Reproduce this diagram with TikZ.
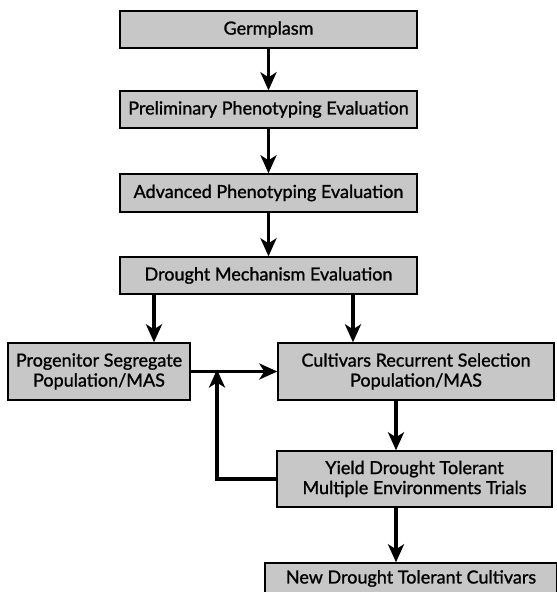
\documentclass[tikz,border=0pt]{standalone}
\usepackage{fontspec}
\setmainfont{Lato}[BoldFont={Lato},BoldFeatures={FakeBold=1.2}]
\usetikzlibrary{arrows.meta}
\begin{document}
\begin{tikzpicture}[x=1pt,y=-1pt,
  box/.style={draw=black,line width=1.4pt,fill=black!22,inner sep=0pt,align=center,font=\fontsize{18}{20}\selectfont\bfseries},
  flow/.style={line width=3.8pt,-{Stealth[length=18pt,width=16pt,inset=5pt]}}]
\useasboundingbox (0,0) rectangle (557,592);
\node[box,minimum width=297pt,minimum height=37pt] (germ) at (268.5,29.5) {Germplasm};
\node[box,minimum width=297pt,minimum height=37pt] (prel) at (268.5,109.5) {Preliminary Phenotyping Evaluation};
\node[box,minimum width=297pt,minimum height=38pt] (adv) at (268.5,193) {Advanced Phenotyping Evaluation};
\node[box,minimum width=297pt,minimum height=37pt] (mech) at (268.5,275.5) {Drought Mechanism Evaluation};
\node[box,minimum width=182pt,minimum height=57pt] (prog) at (99,371.5) {Progenitor Segregate\\Population/MAS};
\node[box,minimum width=276pt,minimum height=57pt] (cult) at (416,371.5) {Cultivars Recurrent Selection\\Population/MAS};
\node[box,minimum width=275pt,minimum height=56pt] (yield) at (414.5,479) {Yield Drought Tolerant\\Multiple Environments Trials};
\node[box,minimum width=292pt,minimum height=31pt] (new) at (411,578.5) {New Drought Tolerant Cultivars};
\coordinate (join) at (217,371.5);
\draw[flow] (germ) -- (prel);
\draw[flow] (prel) -- (adv);
\draw[flow] (adv) -- (mech);
\draw[flow] (mech.south -| 154,0) -- (prog.north -| 154,0);
\draw[flow] (mech.south -| 353,0) -- (cult.north -| 353,0);
\draw[flow] (prog) -- (cult);
\draw[flow] (cult.south -| 396,0) -- (yield.north -| 396,0);
\draw[flow] (yield.south -| 396,0) -- (new.north -| 396,0);
\draw[flow] (yield.west) -| ([yshift=2pt]join);
\end{tikzpicture}
\end{document}
